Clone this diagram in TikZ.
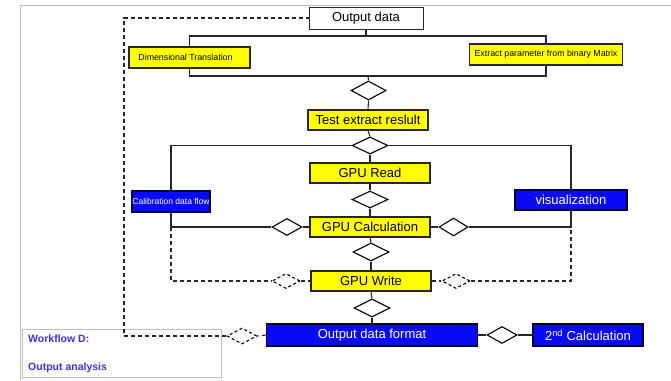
\documentclass[tikz,border=0pt]{standalone}
\usepackage{fontspec}
\setmainfont{Liberation Sans}
\usetikzlibrary{shapes.geometric}
\definecolor{boxyellow}{RGB}{255,255,0}
\definecolor{boxblue}{RGB}{10,10,245}
\definecolor{wfblue}{RGB}{60,50,230}
\definecolor{framegray}{RGB}{190,190,190}
\tikzset{
  base/.style={draw=black!85, line width=1.2pt, inner sep=0pt, align=center},
  ybox/.style={base, fill=boxyellow, text=black},
  bbox/.style={base, draw=black!80!blue, fill=boxblue, text=white},
  wbox/.style={base, line width=0.8pt, fill=white, text=black},
  dia/.style={draw=black, line width=1.1pt, diamond, inner sep=0pt, fill=white},
  ddia/.style={dia, dashed, dash pattern=on 3pt off 2.5pt},
  link/.style={draw=black!85, line width=1.1pt},
  dlink/.style={link, dash pattern=on 4pt off 3pt},
  big/.style={font=\fontsize{13}{15}\selectfont},
  small/.style={font=\fontsize{8.8}{10}\selectfont},
}
\begin{document}
\begin{tikzpicture}[x=1pt, y=-1pt]
\useasboundingbox (0,0) rectangle (671,380);
% page frame
\draw[framegray, line width=0.9pt] (20,380) -- (20,5) -- (671,5);

% top part
\node[wbox, big, minimum width=114pt, minimum height=22pt] (outdata) at (366,18) {Output data};
\node[ybox, small, minimum width=121pt, minimum height=21pt] (dimtr) at (189.5,57.5) {Dimensional Translation\hspace*{8pt}};
\node[ybox, small, minimum width=153pt, minimum height=21pt] (extract) at (546,54.5) {Extract parameter from binary Matrix};
\coordinate (tb) at (368,36);
\coordinate (bb) at (368,76);
\node[dia, minimum width=35pt, minimum height=19pt] (d1) at (368.5,90.5) {};
\node[ybox, big, minimum width=120pt, minimum height=20pt] (test) at (368,120) {Test extract reslult};

% GPU column
\node[dia, minimum width=36pt, minimum height=17pt] (d2) at (370,145.5) {};
\node[ybox, big, minimum width=120pt, minimum height=20pt] (gpuread) at (370,173) {GPU Read};
\node[dia, minimum width=36pt, minimum height=17pt] (d3) at (370,199.5) {};
\node[ybox, big, minimum width=120pt, minimum height=20pt] (gpucalc) at (370,227) {GPU Calculation};
\node[bbox, font=\fontsize{8.5}{10}\selectfont, minimum width=78pt, minimum height=21pt] (calib) at (171,201.5) {Calibration data flow};
\node[bbox, big, minimum width=112pt, minimum height=20pt] (visual) at (571,200) {visualization};
\node[dia, minimum width=30pt, minimum height=17pt] (d4) at (287,227) {};
\node[dia, minimum width=29pt, minimum height=18pt] (d5) at (453.5,227) {};
\node[dia, minimum width=36pt, minimum height=18pt] (d6) at (371,252) {};
\node[ybox, big, minimum width=120pt, minimum height=20pt] (gpuwrite) at (371,281) {GPU Write};
\node[ddia, minimum width=28pt, minimum height=15pt] (dl) at (286,281) {};
\node[ddia, minimum width=28pt, minimum height=15pt] (dr) at (456,281) {};
\node[dia, minimum width=36pt, minimum height=18pt] (d7) at (372,308) {};

% bottom row
\node[bbox, big, minimum width=211pt, minimum height=22pt] (outfmt) at (372,335) {Output data format};
\node[dia, minimum width=30pt, minimum height=17pt] (d8) at (502,335) {};
\node[bbox, big, minimum width=110pt, minimum height=22pt] (calc2) at (588,335) {2\textsuperscript{nd} Calculation};
\node[ddia, minimum width=30pt, minimum height=16pt] (dwf) at (242,336) {};

% workflow caption box
\node[draw=framegray, line width=0.8pt, fill=white, minimum width=199pt, minimum height=48pt, inner sep=0pt] (wf) at (121.5,353) {};
\node[anchor=west, text=wfblue, font=\bfseries\fontsize{10.5}{12}\selectfont, inner sep=0pt] (wft1) at (28,339) {Workflow D:};
\node[anchor=west, text=wfblue, font=\bfseries\fontsize{10.5}{12}\selectfont, inner sep=0pt] (wft2) at (28,368) {Output analysis};
\coordinate (lc) at (124,0);

% solid connectors
\draw[link] (outdata.south) -- (outdata.south |- tb);
\draw[link] (dimtr.north) |- (tb) -| (extract.north);
\draw[link] (dimtr.south) |- (bb) -| (extract.south);
\draw[link] (bb) -- (d1.north);
\draw[link] (d1.south) -- (test.north);
\draw[link] (test.south) -- (d2.north);
\draw[link] (d2.west) -| (calib.north);
\draw[link] (d2.east) -| (visual.north);
\draw[link] (d2.south) -- (gpuread.north);
\draw[link] (gpuread.south) -- (d3.north);
\draw[link] (d3.south) -- (gpucalc.north);
\draw[link] (gpucalc.west) -- (d4.east);
\draw[link] (d4.west) -| (calib.south);
\draw[link] (gpucalc.east) -- (d5.west);
\draw[link] (d5.east) -| (visual.south);
\draw[link] (gpucalc.south) -- (d6.north);
\draw[link] (d6.south) -- (gpuwrite.north);
\draw[link] (gpuwrite.south) -- (d7.north);
\draw[link] (d7.south) -- (outfmt.north);
\draw[link] (outfmt.east) -- (d8.west);
\draw[link] (d8.east) -- (calc2.west);

% dashed connectors
\draw[dlink] (calib.south |- d4.west) |- (dl.west);
\draw[dlink] (dl.east) -- (gpuwrite.west);
\draw[dlink] (gpuwrite.east) -- (dr.west);
\draw[dlink] (dr.east) -| (visual.south |- d5.east);
\draw[dlink] (outfmt.west) -- (dwf.east);
\draw[dlink] (dwf.west) -| (lc |- outdata.west) -- (outdata.west);
\end{tikzpicture}
\end{document}
